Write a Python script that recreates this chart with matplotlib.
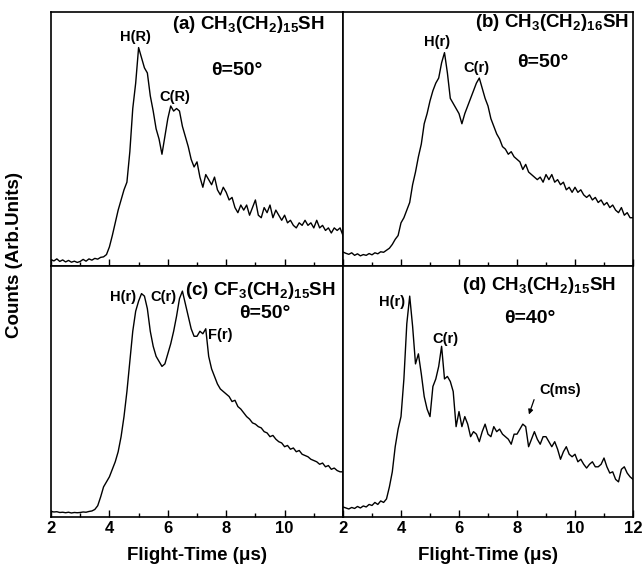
import numpy as np
import matplotlib

matplotlib.use("Agg")
import matplotlib.pyplot as plt

# flight time grid, 2..12 us in 0.1 us steps
flight_time = np.round(np.arange(2.0, 12.0001, 0.1), 2)

# counts, in percent of panel height
counts_a = [
    2.5, 2.0, 2.8, 1.8, 2.4, 1.6, 2.2, 1.5, 1.9, 1.4,
    1.8, 2.6, 1.9, 2.8, 2.3, 3.0, 2.7, 3.4, 3.6, 4.5,
    7.5, 12, 17, 22, 26, 30, 33, 45, 62, 72,
    86, 82, 78, 76, 67, 61, 54, 50, 44, 51,
    58, 63, 61, 62, 61, 55, 51, 47, 42, 39,
    41, 35, 31, 36, 34, 32, 35, 30, 28, 31,
    29, 26, 27, 23, 21, 24, 22, 24, 20, 23,
    26, 20, 19, 23, 21, 24, 19, 22, 20, 18,
    20, 17, 18, 16, 15, 17, 16, 18, 16, 17,
    15, 18, 15, 16, 14, 15, 13, 15, 14, 15,
    12,
]
counts_b = [
    5.5, 5.0, 4.6, 5.2, 4.2, 4.8, 4.0, 4.5, 4.2, 4.9,
    4.4, 5.2, 4.8, 5.6, 5.4, 6.2, 7.0, 8.5, 10.5, 12,
    17, 19, 22, 25, 32, 37, 43, 48, 56, 60,
    65, 69, 72, 74, 80, 84, 76, 66, 64, 62,
    60, 56, 60, 63, 66, 69, 72, 74, 70, 66,
    63, 58, 55, 52, 50, 47, 46, 44, 45, 43,
    42, 41, 38, 40, 37, 36, 35, 34, 35, 33,
    36, 34, 36, 33, 34, 32, 33, 30, 31, 29,
    31, 29, 30, 28, 27, 28, 26, 27, 25, 26,
    24, 25, 23, 24, 22, 21, 23, 20, 21, 19,
    19,
]
counts_c = [
    2.2, 2.0, 2.1, 1.8, 1.9, 1.7, 1.9, 1.6, 1.8, 1.7,
    1.8, 2.0, 1.9, 2.2, 2.4, 3.0, 4.5, 8, 12, 14,
    16, 19, 22, 26, 32, 40, 50, 62, 74, 82,
    86, 89, 88, 83, 74, 68, 64, 62, 60, 61,
    65, 69, 74, 80, 87, 90, 85, 80, 75, 72,
    72, 74, 73, 75, 64, 59, 56, 53, 51, 50,
    49, 48, 46, 46.5, 44, 43, 41.5, 40, 39, 37.5,
    37, 36, 35.5, 34, 33.5, 32, 32.5, 31, 30, 29.5,
    28, 28.5, 27, 27.5, 26, 26.5, 25, 24.5, 24, 23,
    22.5, 22, 21, 21.5, 20, 20.5, 19, 19.5, 18.5, 18,
    18,
]
counts_d = [
    4.0, 3.6, 3.2, 3.8, 3.4, 4.2, 3.6, 4.4, 4.0, 5.0,
    4.6, 5.8, 5.0, 6.4, 5.8, 7.2, 12, 18, 28, 35,
    40, 55, 77, 88, 76, 61, 65, 57, 48, 43,
    40, 52, 55, 60, 68, 55, 56, 54, 50, 36,
    42, 36, 40, 37, 32, 34, 33, 30, 34, 37,
    33, 32, 36, 34, 35, 33, 32, 31, 29, 33,
    33, 35, 37, 36, 28, 31, 34, 31, 29, 32,
    32, 30, 28, 30, 27, 23, 26, 28, 25, 24,
    25, 22, 23, 21, 19.5, 21, 22, 20, 20, 21,
    23.5, 20, 17.5, 18, 15, 14, 19, 20, 17.5, 16,
    15,
]

titles = [
    "(a) CH$_3$(CH$_2$)$_{15}$SH",
    "(b) CH$_3$(CH$_2$)$_{16}$SH",
    "(c) CF$_3$(CH$_2$)$_{15}$SH",
    "(d) CH$_3$(CH$_2$)$_{15}$SH",
]
angles = ["θ=50°", "θ=50°", "θ=50°", "θ=40°"]
peak_labels = [
    [("H(R)", 4.88, 90), ("C(R)", 6.25, 66.5)],
    [("H(r)", 5.24, 88), ("C(r)", 6.6, 78)],
    [("H(r)", 4.47, 87.6), ("C(r)", 5.84, 87.6), ("F(r)", 7.79, 72.5)],
    [("H(r)", 3.69, 85.7), ("C(r)", 5.52, 71), ("C(ms)", 9.48, 50.6)],
]
title_pos = [(6.14, 95), (6.55, 96), (6.59, 90.4), (6.1, 92.4)]
angle_pos = [(8.37, 77), (8.9, 80), (9.33, 81), (8.45, 79)]


def setup_fonts():
    plt.rcParams["font.family"] = ["Liberation Sans", "DejaVu Sans"]
    plt.rcParams["font.weight"] = "bold"
    plt.rcParams["mathtext.fontset"] = "custom"
    plt.rcParams["mathtext.rm"] = "Liberation Sans:bold"
    plt.rcParams["mathtext.it"] = "Liberation Sans:bold"
    plt.rcParams["mathtext.bf"] = "Liberation Sans:bold"
    plt.rcParams["mathtext.default"] = "rm"


def style_axis(ax, show_labels, hide_last):
    ax.set_xlim(2, 12)
    ax.set_ylim(0, 100)
    ax.set_xticks([2, 4, 6, 8, 10, 12])
    ax.set_xticks(np.arange(3, 12, 2), minor=True)
    ax.set_yticks([])
    ax.tick_params(axis="x", which="major", direction="in", length=5,
                   width=1.0, labelsize=12, pad=3)
    ax.tick_params(axis="x", which="minor", direction="in", length=3, width=1.0)
    if show_labels:
        labels = ["2", "4", "6", "8", "10", "" if hide_last else "12"]
        ax.set_xticklabels(labels, fontweight="bold")
    else:
        ax.set_xticklabels([])
    for spine in ax.spines.values():
        spine.set_linewidth(1.2)


def main():
    setup_fonts()
    fig = plt.figure(figsize=(6.43, 5.66), dpi=100)

    W, H = 643.0, 566.0
    boxes = [
        (51, 12, 343, 266),
        (343, 12, 633, 266),
        (51, 266, 343, 517),
        (343, 266, 633, 517),
    ]
    series = [counts_a, counts_b, counts_c, counts_d]

    for i, (x0, y0, x1, y1) in enumerate(boxes):
        ax = fig.add_axes([x0 / W, 1 - y1 / H, (x1 - x0) / W, (y1 - y0) / H])
        ax.plot(flight_time, series[i], color="black", linewidth=1.0)
        style_axis(ax, show_labels=i >= 2, hide_last=i == 2)

        tx, ty = title_pos[i]
        ax.text(tx, ty, titles[i], fontsize=13.5, fontweight="bold",
                ha="left", va="center")
        ax_, ay = angle_pos[i]
        ax.text(ax_, ay, angles[i], fontsize=14, fontweight="bold",
                ha="center", va="center")
        for label, lx, ly in peak_labels[i]:
            ax.text(lx, ly, label, fontsize=10.5, fontweight="bold",
                    ha="center", va="center")

        if i == 3:
            ax.annotate("", xy=(8.38, 39.8), xytext=(8.62, 47.8),
                        arrowprops=dict(arrowstyle="-|>", color="black",
                                        lw=0.9, mutation_scale=7))

    fig.text(15 / W, 1 - 255 / H, "Counts (Arb.Units)", rotation=90,
             fontsize=13.5, fontweight="bold", ha="center", va="center")
    fig.text(197 / W, 1 - 556 / H, "Flight-Time (μs)", fontsize=13.5,
             fontweight="bold", ha="center", va="center")
    fig.text(488 / W, 1 - 556 / H, "Flight-Time (μs)", fontsize=13.5,
             fontweight="bold", ha="center", va="center")

    fig.savefig("out.png", dpi=100)


if __name__ == "__main__":
    main()
